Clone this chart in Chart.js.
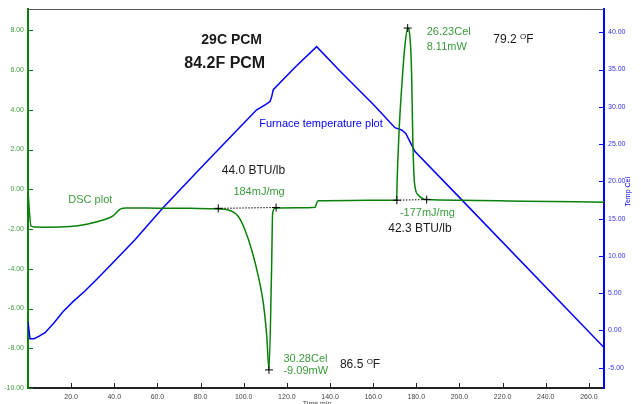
<!DOCTYPE html>
<html><head><meta charset="utf-8">
<script src="https://cdn.jsdelivr.net/npm/chart.js@4"></script>
<style>html,body{margin:0;padding:0;background:#fff}#wrap{width:641px;height:404px;position:relative}</style>
</head><body><div id="wrap"><canvas id="c" width="641" height="404"></canvas></div>
<script>
// ---- data (time in min, DSC in mW, furnace temperature in Cel) ----
const dscTime = [0, 0.5, 1.4, 3, 8.7, 19.5, 27.2, 34.8, 39.4, 42.7, 45.8, 60, 75, 87.5, 92.9, 97.5, 100.6, 103.7, 106.8, 109.1, 110.7, 111.7, 112.9, 113.4, 114.5, 125, 133.2, 133.6, 134.6, 150, 165, 170.9, 171.1, 172.0, 173.4, 174.6, 176.0, 177.4, 177.9, 178.3, 179.1, 180.9, 184.8, 200, 230, 267];
const dscValues = [0.05, -0.9, -1.85, -1.9, -1.91, -1.88, -1.76, -1.55, -1.34, -1.0, -0.94, -0.95, -0.96, -0.99, -1.04, -1.37, -2.05, -3.06, -4.4, -5.74, -7.42, -9.09, -4.07, -1.2, -0.95, -0.93, -0.9, -0.75, -0.58, -0.56, -0.55, -0.55, 0.38, 2.9, 5.41, 7.09, 8.11, 7.09, 5.41, 2.9, 0.38, -0.29, -0.52, -0.55, -0.6, -0.65];
const tempTime = [0, 0.9, 2.8, 5.0, 7.9, 12.0, 16.2, 21.0, 26.4, 32.0, 38.0, 49.6, 62.6, 79.7, 98.3, 106.0, 109.9, 112.2, 113.0, 113.7, 123.8, 133.8, 144.6, 160.1, 170.1, 173.2, 175.2, 177.1, 179.4, 200.3, 267];
const tempValues = [1.17, -1.1, -1.1, -0.8, -0.3, 1.0, 2.5, 3.9, 5.3, 6.9, 8.67, 12.16, 16.45, 21.7, 27.3, 29.6, 30.25, 30.7, 31.4, 32.3, 35.3, 38.07, 34.8, 30.3, 27.2, 26.9, 26.4, 25.3, 24.0, 17.75, -2.3];
const endoBaseTime = [88.2, 115.0];
const endoBaseValues = [-0.96, -0.92];
const exoBaseTime = [171.0, 184.8];
const exoBaseValues = [-0.55, -0.52];
const peakTime = [111.7, 176.0];
const peakValues = [-9.09, 8.11];
const xTicks = [20, 40, 60, 80, 100, 120, 140, 160, 180, 200, 220, 240, 260];
const leftTicks = [-10, -8, -6, -4, -2, 0, 2, 4, 6, 8];
const rightTicks = [-5, 0, 5, 10, 15, 20, 25, 30, 35, 40];

const GREEN = '#0a800a', GREEN_T = '#3a9a3a', BLUE = '#0000ff', BLK = '#1a1a1a';
const FONT = '"Liberation Sans", Arial, sans-serif';

// text annotations anchored in data coordinates (x: min, y: left axis mW)
const notes = [
  {t: '29C PCM', x: 94.4, y: 7.51, c: BLK, f: 'bold 14px', a: 'center'},
  {t: '84.2F PCM', x: 91.2, y: 6.33, c: BLK, f: 'bold 16px', a: 'center'},
  {t: '26.23Cel', x: 184.8, y: 7.89, c: GREEN_T, f: '11px', a: 'left'},
  {t: '8.11mW', x: 184.8, y: 7.17, c: GREEN_T, f: '11px', a: 'left'},
  {t: 'Furnace temperature plot', x: 107.2, y: 3.27, c: BLUE, f: '11px', a: 'left'},
  {t: 'DSC plot', x: 18.7, y: -0.54, c: GREEN_T, f: '11px', a: 'left'},
  {t: '44.0 BTU/lb', x: 89.8, y: 0.94, c: BLK, f: '12px', a: 'left'},
  {t: '184mJ/mg', x: 95.2, y: -0.12, c: GREEN_T, f: '11px', a: 'left'},
  {t: '-177mJ/mg', x: 172.4, y: -1.21, c: GREEN_T, f: '11px', a: 'left'},
  {t: '42.3 BTU/lb', x: 167.0, y: -2.0, c: BLK, f: '12px', a: 'left'},
  {t: '30.28Cel', x: 118.4, y: -8.53, c: GREEN_T, f: '11px', a: 'left'},
  {t: '-9.09mW', x: 118.4, y: -9.14, c: GREEN_T, f: '11px', a: 'left'}
];
const degNotes = [
  {t: '79.2 ', x: 215.7, y: 7.51},
  {t: '86.5 ', x: 144.6, y: -8.83}
];

const pts = (xs, ys) => xs.map((v, i) => ({x: v, y: ys[i]}));

const decor = {
  id: 'decor',
  afterDraw(chart) {
    const {ctx, chartArea: a, scales: {x, y, y2}} = chart;
    ctx.save();
    // top border
    ctx.strokeStyle = '#555'; ctx.lineWidth = 1;
    ctx.beginPath(); ctx.moveTo(a.left, a.top + 0.5); ctx.lineTo(a.right, a.top + 0.5); ctx.stroke();
    // inside tick marks
    ctx.lineWidth = 1;
    ctx.strokeStyle = GREEN; ctx.beginPath();
    y.ticks.forEach(t => { const p = Math.round(y.getPixelForValue(t.value)) + 0.5; ctx.moveTo(a.left, p); ctx.lineTo(a.left + 5, p); });
    ctx.stroke();
    ctx.strokeStyle = BLUE; ctx.beginPath();
    y2.ticks.forEach(t => { const p = Math.round(y2.getPixelForValue(t.value)) + 0.5; ctx.moveTo(a.right - 5, p); ctx.lineTo(a.right, p); });
    ctx.stroke();
    ctx.strokeStyle = '#222'; ctx.beginPath();
    x.ticks.forEach(t => { const p = Math.round(x.getPixelForValue(t.value)) + 0.5; ctx.moveTo(p, a.bottom); ctx.lineTo(p, a.bottom - 5); });
    ctx.stroke();
    // notes
    ctx.textBaseline = 'middle';
    notes.forEach(n => {
      ctx.font = n.f + ' ' + FONT; ctx.fillStyle = n.c; ctx.textAlign = n.a;
      ctx.fillText(n.t, x.getPixelForValue(n.x), y.getPixelForValue(n.y));
    });
    degNotes.forEach(n => {
      const px = x.getPixelForValue(n.x), py = y.getPixelForValue(n.y);
      ctx.fillStyle = BLK; ctx.textAlign = 'left';
      ctx.font = '12px ' + FONT; ctx.fillText(n.t, px, py);
      let w = ctx.measureText(n.t).width;
      ctx.font = '8px ' + FONT; ctx.fillText('O', px + w, py - 3);
      w += ctx.measureText('O').width;
      ctx.font = '12px ' + FONT; ctx.fillText('F', px + w, py);
    });
    // right axis title (reads upward)
    ctx.save();
    ctx.translate(a.right + 24, y2.getPixelForValue(18.6));
    ctx.rotate(-Math.PI / 2);
    ctx.font = '7px ' + FONT; ctx.fillStyle = BLUE; ctx.textAlign = 'center';
    ctx.fillText('Temp Cel', 0, 0);
    ctx.restore();
    // x axis title, mostly cut off at the bottom
    ctx.font = '7px ' + FONT; ctx.fillStyle = '#444'; ctx.textAlign = 'center'; ctx.textBaseline = 'top';
    ctx.fillText('Time min', x.getPixelForValue(134), a.bottom + 13);
    ctx.restore();
  }
};

new Chart(document.getElementById('c'), {
  type: 'line',
  data: {
    datasets: [
      {label: 'DSC', data: pts(dscTime, dscValues), yAxisID: 'y', borderColor: GREEN, borderWidth: 1.5, pointRadius: 0, cubicInterpolationMode: 'monotone', order: 2},
      {label: 'Temp', data: pts(tempTime, tempValues), yAxisID: 'y2', borderColor: BLUE, borderWidth: 1.5, pointRadius: 0, tension: 0, order: 3},
      {label: 'endo base', data: pts(endoBaseTime, endoBaseValues), yAxisID: 'y', borderColor: '#000', borderWidth: 1, borderDash: [1.5, 1.5], pointStyle: 'cross', pointRadius: 4, pointBorderColor: '#000', pointBorderWidth: 1, order: 1},
      {label: 'exo base', data: pts(exoBaseTime, exoBaseValues), yAxisID: 'y', borderColor: '#000', borderWidth: 1, borderDash: [1.5, 1.5], pointStyle: 'cross', pointRadius: 4, pointBorderColor: '#000', pointBorderWidth: 1, order: 1},
      {label: 'peaks', data: pts(peakTime, peakValues), yAxisID: 'y', showLine: false, pointStyle: 'cross', pointRadius: 4, pointBorderColor: '#000', pointBorderWidth: 1, order: 0}
    ]
  },
  options: {
    responsive: false, animation: false, devicePixelRatio: 1,
    layout: {padding: {top: 9, left: 0, right: 0, bottom: 0}},
    plugins: {legend: {display: false}, tooltip: {enabled: false}},
    scales: {
      x: {
        type: 'linear', min: 0, max: 267,
        grid: {display: false, drawTicks: false},
        border: {color: '#222', width: 2},
        afterBuildTicks: s => { s.ticks = xTicks.map(v => ({value: v})); },
        afterFit: s => { s.height = 16; },
        ticks: {color: '#444', font: {size: 7, family: FONT}, padding: 5, maxRotation: 0, autoSkip: false, callback: v => v.toFixed(1)}
      },
      y: {
        type: 'linear', position: 'left', min: -10, max: 9.07,
        grid: {display: false, drawTicks: false},
        border: {color: GREEN, width: 2},
        afterBuildTicks: s => { s.ticks = leftTicks.map(v => ({value: v})); },
        afterFit: s => { s.width = 28; },
        ticks: {color: GREEN_T, font: {size: 7, family: FONT}, padding: 4, autoSkip: false, callback: v => v.toFixed(2)}
      },
      y2: {
        type: 'linear', position: 'right', min: -7.72, max: 43.12,
        grid: {display: false, drawTicks: false},
        border: {color: BLUE, width: 2},
        afterBuildTicks: s => { s.ticks = rightTicks.map(v => ({value: v})); },
        afterFit: s => { s.width = 37; },
        ticks: {color: '#3333ff', font: {size: 7, family: FONT}, padding: 4, autoSkip: false, callback: v => v.toFixed(2)}
      }
    }
  },
  plugins: [decor]
});
</script></body></html>
